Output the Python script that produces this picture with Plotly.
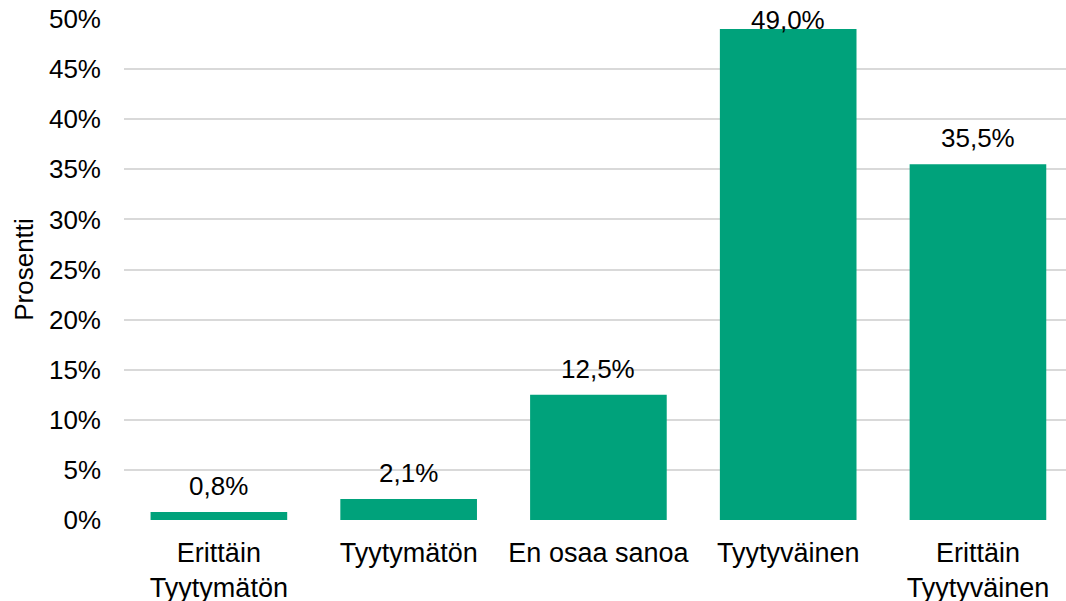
import plotly.graph_objects as go

categories = ["Erittäin<br>Tyytymätön", "Tyytymätön", "En osaa sanoa", "Tyytyväinen", "Erittäin<br>Tyytyväinen"]
values = [0.8, 2.1, 12.5, 49.0, 35.5]
y_tickvals = [0, 5, 10, 15, 20, 25, 30, 35, 40, 45, 50]
y_ticktext = ["0%", "5%", "10%", "15%", "20%", "25%", "30%", "35%", "40%", "45%", "50%"]
y_title = "Prosentti"

BAR_COLOR = "#00A27B"
FONT = "Liberation Sans, Arial, sans-serif"

W, H = 1066, 601
ML, MR, MT, MB = 124, 0, 19, 81
plot_h = H - MT - MB
px_per_unit = plot_h / 50.0

fig = go.Figure()
fig.add_trace(go.Bar(
    x=list(range(len(categories))),
    y=values,
    marker=dict(color=BAR_COLOR, line=dict(width=0)),
    hoverinfo="skip",
))

for i, v in enumerate(values):
    shift = min(26, px_per_unit * (50 - v) - 1)
    fig.add_annotation(
        x=i, y=v, xref="x", yref="y",
        text=f"{v:.1f}%".replace(".", ","),
        showarrow=False, yanchor="middle", yshift=shift,
        font=dict(family=FONT, size=26, color="#000000"),
    )

fig.update_layout(
    width=W, height=H,
    margin=dict(l=ML, r=MR, t=MT, b=MB, autoexpand=False),
    paper_bgcolor="white", plot_bgcolor="white",
    bargap=0.28,
    showlegend=False,
    hovermode=False,
    font=dict(family=FONT, size=26, color="#000000"),
)
fig.update_xaxes(
    tickvals=list(range(len(categories))), ticktext=categories,
    range=[-0.5, 4.464],
    showgrid=False, zeroline=False, showline=False,
    ticks="", ticklabelstandoff=14,
    tickfont=dict(family=FONT, size=27, color="#000000"),
    ticklabeloverflow="allow",
    automargin=False,
)
fig.update_yaxes(
    range=[0, 50], tickvals=y_tickvals, ticktext=y_ticktext,
    showgrid=True, gridcolor="#d9d9d9", gridwidth=2,
    zeroline=False, showline=False, ticks="",
    ticklabelstandoff=22,
    ticklabeloverflow="allow",
    tickfont=dict(family=FONT, size=26, color="#000000"),
    title=dict(text=y_title, standoff=7, font=dict(family=FONT, size=26, color="#000000")),
    automargin=False,
)

fig.write_html(
    "out.html",
    config={"displayModeBar": False, "staticPlot": True},
    post_script="document.body.style.margin='0';document.body.style.overflow='hidden';",
)
